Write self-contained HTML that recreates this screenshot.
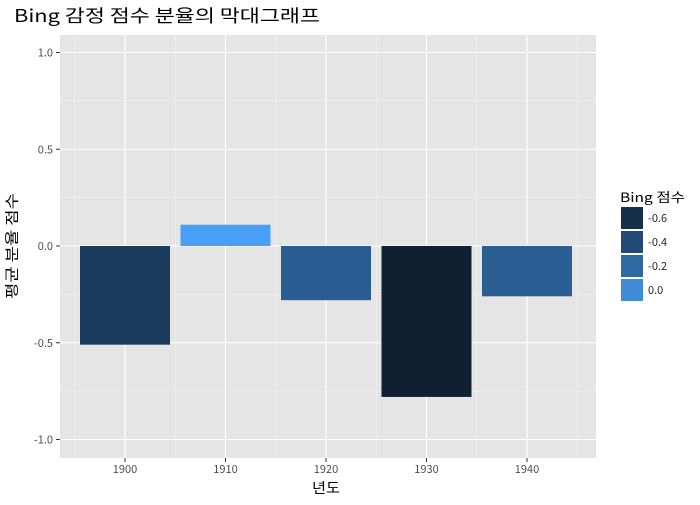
<!DOCTYPE html>
<html><head><meta charset="utf-8"><style>
body{margin:0;background:#fff;font-family:"Noto Sans CJK KR",sans-serif}
svg text{font-family:"Noto Sans CJK KR",sans-serif}
</style></head><body>
<svg id="c" width="700" height="500" xmlns="http://www.w3.org/2000/svg">
<text x="14" y="22" font-size="17.5" fill="#000" textLength="306" lengthAdjust="spacingAndGlyphs">Bing 감정 점수 분율의 막대그래프</text>
<rect x="60" y="35" width="536" height="423" fill="#e5e5e5"/>
<g id="grid"></g><g id="bars"></g><g id="axes"></g><g id="legend"></g>
<text x="312" y="493" font-size="14" textLength="28" lengthAdjust="spacingAndGlyphs">년도</text>
<text transform="translate(17,246) rotate(-90)" x="-53" font-size="14" textLength="106" lengthAdjust="spacingAndGlyphs">평균 분율 점수</text>
</svg>
<script>
const years=[1900,1910,1920,1930,1940];
const values=[-0.51,0.11,-0.28,-0.78,-0.26];
const yTicks=[-1.0,-0.5,0.0,0.5,1.0];
const yLabels=["-1.0","-0.5","0.0","0.5","1.0"];
const legendValues=[-0.6,-0.4,-0.2,0.0];
const legendLabels=["-0.6","-0.4","-0.2","0.0"];
const NS="http://www.w3.org/2000/svg";
const X=y=>125+(y-1900)*10.05;
const Y=v=>246-v*193.5;
const vmin=Math.min(...values),vmax=Math.max(...values);
function col(v){const t=Math.pow(Math.max(0,(v-vmin)/(vmax-vmin)),1.3);const a=[0x0f,0x20,0x33],b=[0x47,0x9f,0xf7];
return "rgb("+a.map((c,i)=>Math.round(c+(b[i]-c)*t)).join(",")+")";}
function mk(tag,at,p){const e=document.createElementNS(NS,tag);for(const k in at)e.setAttribute(k,at[k]);p.appendChild(e);return e;}
const g=document.getElementById('grid'),bg=document.getElementById('bars'),ax=document.getElementById('axes'),lg=document.getElementById('legend');
for(let i=0;i<yTicks.length-1;i++){const m=(yTicks[i]+yTicks[i+1])/2;const l=mk('line',{x1:60,x2:596,y1:Y(m),y2:Y(m),stroke:'#f2f2f2','stroke-width':0.6},g);
}
for(let yy=1895;yy<=1945;yy+=10){const l=mk('line',{x1:X(yy),x2:X(yy),y1:35,y2:458,stroke:'#f2f2f2','stroke-width':0.6},g);
}
yTicks.forEach((v,i)=>{const l=mk('line',{x1:60,x2:596,y1:Y(v),y2:Y(v),stroke:'#fff','stroke-width':1.1},g);

mk('line',{x1:56,x2:60,y1:Y(v),y2:Y(v),stroke:'#333'},ax);
const t=mk('text',{x:53,y:Y(v)+4,'font-size':11,fill:'#4d4d4d','text-anchor':'end'},ax);t.textContent=yLabels[i];
});
years.forEach((yr,i)=>{const l=mk('line',{x1:X(yr),x2:X(yr),y1:35,y2:458,stroke:'#fff','stroke-width':1.1},g);

mk('line',{x1:X(yr),x2:X(yr),y1:458,y2:462,stroke:'#333'},ax);
const t=mk('text',{x:X(yr),y:473,'font-size':11,fill:'#4d4d4d','text-anchor':'middle'},ax);t.textContent=yr;

const v=values[i];const r=mk('rect',{x:X(yr)-45,width:90,y:Math.min(Y(v),Y(0)),height:Math.abs(Y(v)-Y(0)),fill:col(v)},bg);
});
const lt=mk('text',{x:620,y:202,'font-size':13,textLength:65,lengthAdjust:'spacingAndGlyphs'},lg);lt.textContent="Bing 점수";

legendValues.forEach((v,i)=>{const r=mk('rect',{x:621,y:207+i*24,width:22,height:22,fill:col(v)},lg);

const t=mk('text',{x:648,y:222+i*24,'font-size':11,fill:'#222'},lg);t.textContent=legendLabels[i];
});
</script>
</body></html>
